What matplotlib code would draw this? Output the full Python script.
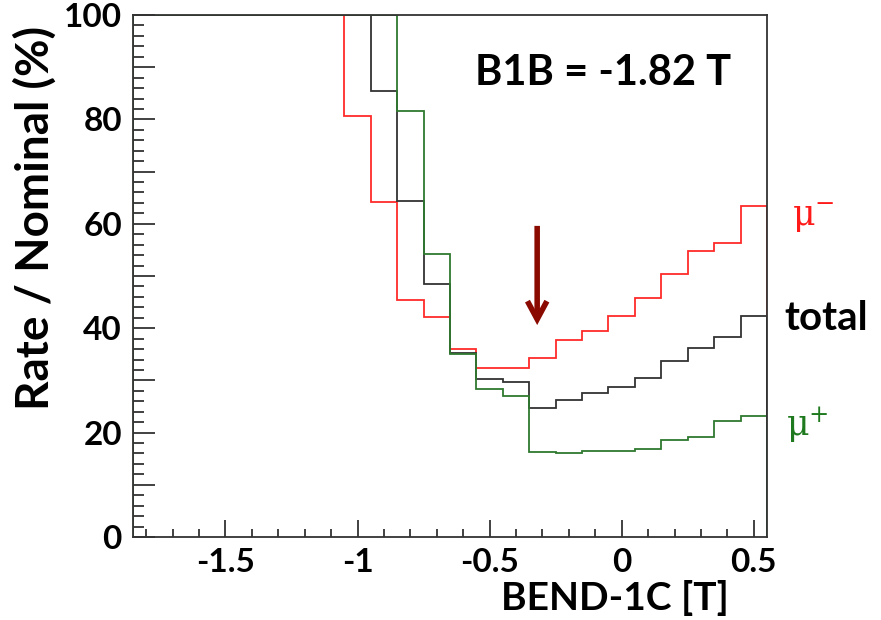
import numpy as np
import matplotlib
matplotlib.use('Agg')
import matplotlib.pyplot as plt
from matplotlib.ticker import MultipleLocator, FuncFormatter

# bin centres of BEND-1C scan [T], width 0.1
bend_1c = [-1.8, -1.7, -1.6, -1.5, -1.4, -1.3, -1.2, -1.1, -1.0, -0.9, -0.8, -0.7,
           -0.6, -0.5, -0.4, -0.3, -0.2, -0.1, 0.0, 0.1, 0.2, 0.3, 0.4, 0.5]

# Rate / Nominal (%)
mu_minus = [100, 100, 100, 100, 100, 100, 100, 100, 80.7, 64.2, 45.4, 42.1,
            36.0, 32.3, 32.4, 34.3, 37.7, 39.5, 42.4, 45.7, 50.3, 54.8, 56.3, 63.4]
total = [100, 100, 100, 100, 100, 100, 100, 100, 100, 85.4, 64.3, 48.4,
         35.2, 30.3, 29.6, 24.8, 26.2, 27.5, 28.8, 30.5, 33.7, 36.3, 38.4, 42.3]
mu_plus = [100, 100, 100, 100, 100, 100, 100, 100, 100, 100, 81.6, 54.2,
           35.0, 28.4, 27.1, 16.3, 16.0, 16.5, 16.5, 16.8, 18.6, 19.2, 22.2, 23.2]

b1b_label = 'B1B = -1.82 T'
arrow_x = -0.32
arrow_y = (59.6, 40.6)

plt.rcParams['font.family'] = ['Lato', 'DejaVu Sans']

centers = np.array(bend_1c)
edges = np.append(centers - 0.05, centers[-1] + 0.05)

fig = plt.figure(figsize=(8.81, 6.20), dpi=100)
ax = fig.add_axes([133/881, 83/620, 634/881, 522/620])

ax.stairs(mu_minus, edges, color='#ff2a2a', lw=1.3)
ax.stairs(total, edges, color='#333333', lw=1.3)
ax.stairs(mu_plus, edges, color='#2f7a2f', lw=1.3)

ax.set_xlim(-1.85, 0.55)
ax.set_ylim(0, 100)

# ticks, ROOT style
ax.xaxis.set_major_locator(MultipleLocator(0.5))
ax.xaxis.set_minor_locator(MultipleLocator(0.1))
ax.yaxis.set_major_locator(MultipleLocator(10))
ax.yaxis.set_minor_locator(MultipleLocator(2))
ax.xaxis.set_major_formatter(FuncFormatter(lambda v, p: f'{v:g}'))
ax.yaxis.set_major_formatter(FuncFormatter(lambda v, p: f'{v:.0f}' if round(v) % 20 == 0 else ''))
ax.tick_params(axis='both', which='both', direction='in', color='#333333', width=1.3)
ax.tick_params(axis='x', which='major', length=12, pad=8, labelsize=24)
ax.tick_params(axis='x', which='minor', length=6)
ax.tick_params(axis='y', which='major', length=16, pad=8, labelsize=24)
ax.tick_params(axis='y', which='minor', length=8)
for lab in ax.get_xticklabels() + ax.get_yticklabels():
    lab.set_fontweight('bold')
for s in ax.spines.values():
    s.set_linewidth(1.3)
    s.set_color('#333333')

ax.annotate('', xy=(arrow_x, arrow_y[1]), xytext=(arrow_x, arrow_y[0]),
            arrowprops=dict(arrowstyle='->,head_width=0.7,head_length=1.3',
                            color='#8b0a00', lw=4, shrinkA=0, shrinkB=0,
                            joinstyle='miter', capstyle='butt'))

ax.text(342/634, 0.889, b1b_label, transform=ax.transAxes, fontsize=30,
        fontweight='bold', ha='left', va='center')

fig.text(35/881, 1 - 218/620, 'Rate / Nominal (%)', rotation=90, fontsize=33,
         fontweight='bold', ha='center', va='center')
fig.text(729/881, 1 - 598/620, 'BEND-1C [T]', fontsize=28, fontweight='bold',
         ha='right', va='center')

fig.text(792/881, 1 - 218/620, r'$\mathregular{\mu^{-}}$', color='#ff1a1a', fontsize=25,
         family=['DejaVu Serif'], ha='left', va='center')
fig.text(784/881, 1 - 318/620, 'total', color='black', fontsize=29,
         fontweight='bold', ha='left', va='center')
fig.text(786/881, 1 - 425/620, r'$\mathregular{\mu^{+}}$', color='#1f7a1f', fontsize=25,
         family=['DejaVu Serif'], ha='left', va='center')

fig.savefig('out.png', dpi=100)
